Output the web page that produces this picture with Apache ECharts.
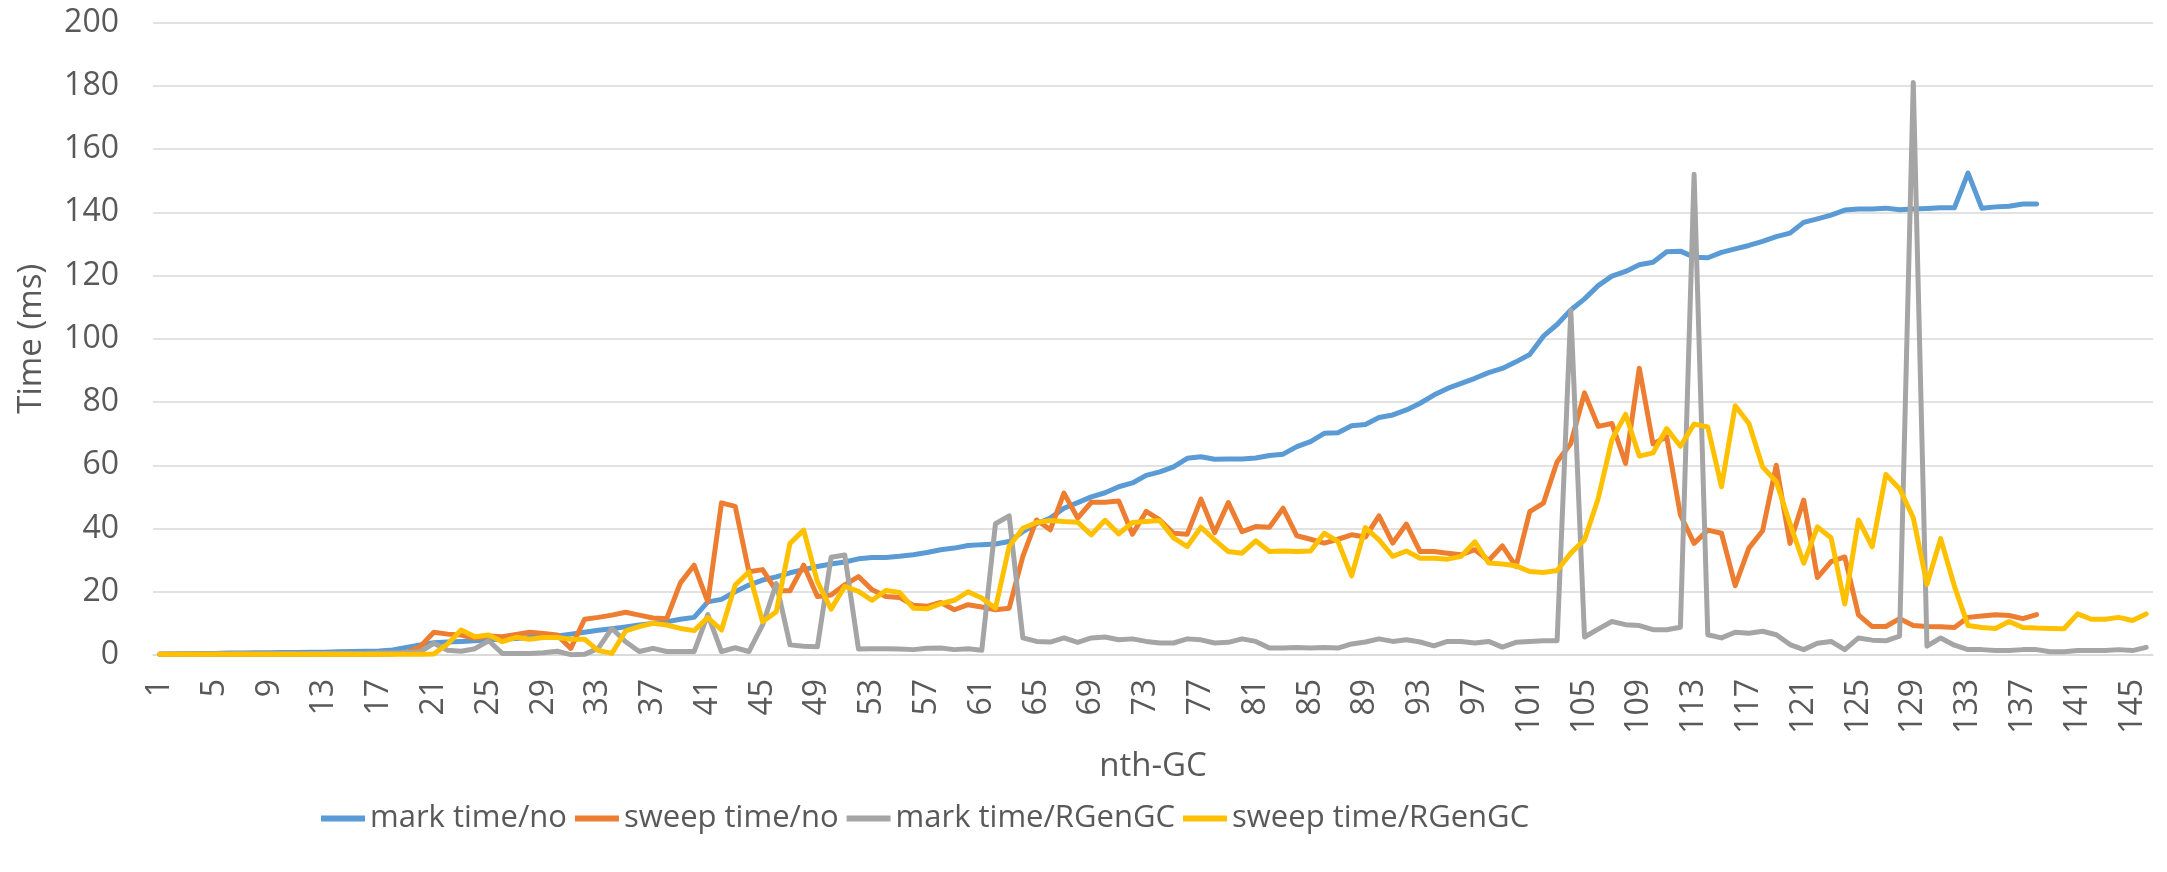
<!DOCTYPE html>
<html>
<head>
<meta charset="utf-8">
<title>GC time</title>
<script src="https://cdn.jsdelivr.net/npm/echarts@6/dist/echarts.min.js"></script>
<style>
html, body { margin: 0; padding: 0; background: #fff; }
#chart { width: 2167px; height: 872px; }
</style>
</head>
<body>
<div id="chart"></div>
<script>
// x categories: nth GC, 1..146
var gcIndex = [];
for (var i = 1; i <= 146; i++) gcIndex.push(String(i));

var seriesNames = ['mark time/no', 'sweep time/no', 'mark time/RGenGC', 'sweep time/RGenGC'];
var seriesColors = ['#5B9BD5', '#ED7D31', '#A5A5A5', '#FFC000'];

var markNo = [
  0.2,0.3,0.4,0.5,0.5,0.6,0.6,0.7,0.7,0.8,
  0.8,0.9,0.9,1.0,1.1,1.2,1.3,1.6,2.4,3.2,
  3.9,4.1,4.3,4.5,4.8,5.0,5.2,5.5,5.8,6.0,
  6.6,7.2,7.8,8.3,8.9,9.5,10.0,10.5,11.3,11.9,
  16.8,17.6,20.0,22.1,23.7,24.7,26.0,27.0,28.0,28.8,
  29.4,30.4,30.8,30.8,31.2,31.7,32.4,33.3,33.8,34.6,
  34.9,35.1,35.9,39.0,41.5,43.3,46.4,48.2,50.0,51.3,
  53.2,54.4,56.8,57.9,59.5,62.2,62.7,61.9,62.0,62.0,
  62.3,63.1,63.5,65.9,67.5,70.1,70.3,72.5,72.9,75.1,
  75.9,77.5,79.6,82.2,84.3,85.9,87.5,89.3,90.6,92.7,
  95.0,100.8,104.5,109.1,112.6,116.8,119.8,121.3,123.4,124.2,
  127.5,127.7,125.8,125.6,127.3,128.4,129.5,130.8,132.3,133.4,
  136.8,137.9,139.1,140.7,141.0,141.0,141.3,140.8,141.0,141.2,
  141.4,141.4,152.4,141.3,141.7,141.9,142.6,142.6
];

var sweepNo = [
  0.2,0.2,0.2,0.2,0.2,0.2,0.2,0.2,0.2,0.2,
  0.2,0.2,0.2,0.2,0.2,0.2,0.2,0.3,0.8,2.6,
  7.2,6.6,6.3,5.3,6.0,5.8,6.5,7.2,6.8,6.3,
  2.1,11.3,11.9,12.6,13.5,12.6,11.7,11.5,22.8,28.4,
  16.8,48.1,47.0,26.3,27.0,20.3,20.3,28.4,18.5,19.0,
  22.2,24.8,20.6,18.5,18.2,15.7,15.4,16.6,14.3,15.9,
  15.2,14.3,14.8,31.2,42.7,39.6,51.2,43.3,48.3,48.3,
  48.7,38.2,45.4,42.7,38.5,38.2,49.3,38.7,48.2,39.0,
  40.6,40.4,46.4,37.7,36.6,35.4,36.6,38.0,37.3,44.0,
  35.4,41.4,32.7,32.7,32.2,31.7,33.3,29.9,34.5,28.0,
  45.3,48.0,61.1,66.9,82.9,72.3,73.2,60.6,90.7,66.7,
  69.0,44.3,35.3,39.5,38.5,21.9,33.8,39.3,60.0,35.3,
  49.0,24.5,29.5,31.0,12.7,9.0,9.0,11.5,9.3,9.0,
  8.9,8.7,11.9,12.3,12.7,12.5,11.5,12.8
];

var markRGen = [
  0.3,0.3,0.3,0.3,0.4,0.4,0.4,0.4,0.4,0.4,
  0.4,0.4,0.5,0.5,0.5,0.5,0.6,0.6,0.7,1.0,
  3.7,1.5,1.2,2.0,4.5,0.5,0.5,0.5,0.7,1.2,
  0.1,0.2,2.1,8.4,4.2,1.1,2.1,1.1,1.1,1.1,
  12.8,1.1,2.3,1.1,9.5,22.6,3.2,2.8,2.6,30.9,
  31.6,1.9,2.0,2.0,1.9,1.7,2.1,2.2,1.7,2.0,
  1.5,41.5,44.0,5.4,4.3,4.1,5.4,4.0,5.4,5.7,
  4.8,5.1,4.3,3.8,3.8,5.1,4.8,3.8,4.0,5.1,
  4.3,2.2,2.2,2.4,2.2,2.4,2.2,3.5,4.1,5.1,
  4.3,4.8,4.1,2.9,4.3,4.3,3.8,4.3,2.5,4.0,
  4.3,4.5,4.5,109.0,5.7,8.2,10.6,9.6,9.3,8.0,
  8.0,8.8,152.0,6.4,5.4,7.2,6.9,7.5,6.4,3.3,
  1.7,3.7,4.3,1.7,5.4,4.7,4.5,6.0,181.0,2.8,
  5.4,3.1,1.7,1.7,1.4,1.4,1.7,1.7,1.0,1.0,
  1.4,1.4,1.4,1.7,1.4,2.4
];

var sweepRGen = [
  0.2,0.2,0.2,0.2,0.2,0.2,0.2,0.2,0.2,0.2,
  0.2,0.2,0.2,0.2,0.2,0.2,0.2,0.2,0.2,0.2,
  0.3,3.5,7.9,5.8,6.3,4.2,5.6,5.0,5.5,5.5,
  5.0,5.0,1.4,0.5,7.6,9.0,10.0,9.5,8.4,7.7,
  11.8,7.9,22.1,26.3,10.5,13.7,35.3,39.5,23.2,14.5,
  21.7,20.1,17.3,20.4,19.8,14.8,14.6,16.2,17.3,20.0,
  18.0,14.8,34.3,40.1,41.9,42.5,42.2,42.0,38.0,42.6,
  38.3,41.9,42.2,42.5,37.0,34.3,40.4,36.4,32.7,32.2,
  36.1,32.7,32.9,32.7,32.9,38.5,35.9,25.0,40.3,36.4,
  31.2,32.9,30.6,30.6,30.3,31.2,35.8,29.1,28.8,28.2,
  26.4,26.1,26.7,32.2,36.4,49.5,68.1,76.1,62.9,63.9,
  71.6,66.0,73.0,72.1,53.2,78.8,73.2,59.5,54.8,41.6,
  29.0,40.5,37.1,16.1,42.7,34.2,57.1,52.6,43.4,22.4,
  36.8,21.8,9.3,8.7,8.4,10.6,8.7,8.5,8.4,8.3,
  13.0,11.3,11.3,11.9,10.9,13.0
];

var allData = [markNo, sweepNo, markRGen, sweepRGen];

var myChart = echarts.init(document.getElementById('chart'));

var series = [];
for (var s = 0; s < allData.length; s++) {
  series.push({
    name: seriesNames[s],
    type: 'line',
    data: allData[s],
    showSymbol: false,
    symbol: 'none',
    animation: false,
    lineStyle: { color: seriesColors[s], width: 5, join: 'round', cap: 'round' },
    itemStyle: { color: seriesColors[s] }
  });
}

var textFont = '"Open Sans", "Noto Sans", sans-serif';

var option = {
  backgroundColor: '#ffffff',
  animation: false,
  textStyle: { fontFamily: textFont, color: '#595959' },
  grid: { left: 153, right: 14, top: 22.5, bottom: 217, containLabel: false },
  legend: {
    data: seriesNames,
    left: 316,
    top: 798,
    itemGap: 8,
    itemWidth: 44,
    itemHeight: 6,
    icon: 'rect',
    textStyle: { fontSize: 31, color: '#595959', fontFamily: textFont }
  },
  xAxis: {
    type: 'category',
    data: gcIndex,
    boundaryGap: true,
    name: 'nth-GC',
    nameLocation: 'middle',
    nameGap: 95,
    nameTextStyle: { fontSize: 33, color: '#595959' },
    axisLine: { show: true, lineStyle: { color: '#D9D9D9', width: 1.5 } },
    axisTick: { show: false },
    axisLabel: { interval: 3, rotate: 90, margin: 24, fontSize: 32, color: '#595959' },
    splitLine: { show: false }
  },
  yAxis: {
    type: 'value',
    min: 0,
    max: 200,
    interval: 20,
    name: 'Time (ms)',
    nameLocation: 'middle',
    nameGap: 105,
    nameTextStyle: { fontSize: 33, color: '#595959' },
    axisLine: { show: false },
    axisTick: { show: false },
    axisLabel: { margin: 34, fontSize: 32, color: '#595959' },
    splitLine: { lineStyle: { color: '#D9D9D9', width: 1.5 } }
  },
  series: series
};

myChart.setOption(option);
</script>
</body>
</html>
